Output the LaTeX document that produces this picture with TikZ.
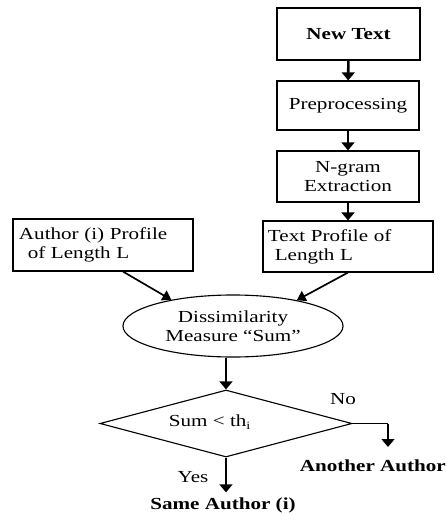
\documentclass[tikz,border=0pt]{standalone}
\usepackage{fontspec}
\setmainfont{Liberation Serif}[FakeStretch=1.25]
\usetikzlibrary{shapes.geometric,arrows.meta,calc}
\begin{document}
\begin{tikzpicture}[x=0.025cm,y=-0.025cm,font=\fontsize{12}{13.5}\selectfont,
  blk/.style={draw,line width=0.8pt,inner sep=0.12cm},
  arr/.style={line width=1.8pt,-{Triangle[length=0.2cm,width=0.32cm]}},
  sarr/.style={line width=1.2pt,-{Triangle[length=0.22cm,width=0.28cm]}}]
\useasboundingbox (0,0) rectangle (446,513);

\node[blk,minimum width=3.575cm,minimum height=1.3cm,font=\fontsize{12}{13.5}\selectfont\bfseries] (newtext) at (348.5,34) {New Text};
\node[blk,minimum width=3.55cm,minimum height=1.225cm] (prep) at (348,105.5) {Preprocessing};
\node[blk,minimum width=3.55cm,minimum height=1.275cm,align=center] (ngram) at (348,176.5) {N-gram\\Extraction};
\node[blk,text width=4.0cm,inner sep=0.125cm,minimum height=1.275cm,align=left] (textprof) at (348,246.5) {Text Profile of\\\hspace*{0.17cm}Length L};
\node[blk,text width=4.2cm,inner sep=0.15cm,minimum height=1.3cm,align=left] (author) at (103,245) {Author (i) Profile\\\hspace*{0.22cm}of Length L};
\node[draw,line width=0.8pt,ellipse,inner sep=0pt,minimum width=5.5cm,minimum height=1.55cm,align=center] (ell) at (233,326) {Dissimilarity\\Measure “Sum”};
\node[draw,line width=0.8pt,diamond,inner sep=0pt,minimum width=6.3cm,minimum height=1.675cm] (dec) at (226,423.5) {};
\node (cond) at (210,422) {Sum < th\textsubscript{i}};
\node[font=\fontsize{12}{13.5}\selectfont\bfseries] (same) at (223,505) {Same Author (i)};
\node[anchor=west,font=\fontsize{12}{13.5}\selectfont\bfseries] (other) at (295,466) {Another Author};
\coordinate (noend) at (388,447);
\node (no) at (343,399) {No};
\node (yes) at (193,477) {Yes};

\draw[arr] (newtext) -- (prep);
\draw[arr] (prep) -- (ngram);
\draw[arr] (ngram) -- (textprof);
\draw[sarr] ([xshift=0.5cm]author.south) -- (ell.157);
\draw[sarr] (textprof.south) -- (ell.22);
\draw[arr] (dec.north |- ell.south) -- (dec.north);
\draw[line width=0.8pt] (dec.east) -- (noend |- dec.east);
\draw[arr] (noend |- dec.east) -- (noend);
\draw[arr] (dec.south) -- (dec.south |- same.north);
\end{tikzpicture}
\end{document}
